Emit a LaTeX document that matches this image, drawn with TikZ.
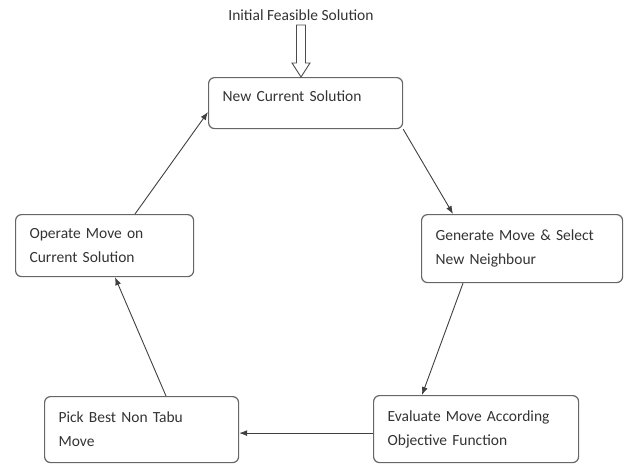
\documentclass[tikz,border=0pt]{standalone}
\usepackage{fontspec}
\setmainfont{Carlito}
\usepackage{tikz}
\usetikzlibrary{arrows.meta}

\tikzset{
  stepbox/.style 2 args={draw=black!60, line width=1.2pt, rounded corners=6pt,
    anchor=north west, align=left, inner xsep=14pt, inner ysep=2pt,
    text width=#1, minimum height=#2, text=black!80},
  link/.style={draw=black!75, line width=0.9pt, -{Latex[length=8pt,width=6pt]}}
}

\begin{document}
\begin{tikzpicture}[x=1pt,y=-1pt,font=\fontsize{15.5}{24}\selectfont]
        \useasboundingbox (0,0) rectangle (626,464);
        \node[inner sep=0pt,text=black!80] (init) at (301,15) {Initial Feasible Solution};
        \node[stepbox={166pt}{51pt},text depth=14pt] (cur) at (208,77) {New Current Solution};
        \node[stepbox={173pt}{68pt}] (gen) at (421,214) {Generate Move \& Select\\New Neighbour};
        \node[stepbox={177pt}{67pt}] (eval) at (373,395) {Evaluate Move According\\Objective Function};
        \node[stepbox={166pt}{66pt}] (pick) at (44,396) {Pick Best Non Tabu\\Move};
        \node[stepbox={150pt}{62pt}] (op) at (15,214) {Operate Move on\\Current Solution};
        % hollow entry arrow
        \coordinate (tip) at (init.south |- cur.north);
        \draw[shift={(tip)},draw=black!70,line width=0.9pt,fill=white]
        (-4.5,-52) -- (-4.5,-14) -- (-9,-14) -- (0,0) --
        (9,-14) -- (4.5,-14) -- (4.5,-52) -- cycle;
        % the cycle
        \draw[link] (cur.south east) -- ([xshift=32pt]gen.north west);
        \draw[link] ([xshift=42pt]gen.south west) -- ([xshift=49pt]eval.north west);
        \draw[link] ([yshift=-4pt]eval.west) -- ([yshift=-4pt]eval.west -| pick.east);
        \draw[link] ([xshift=122pt]pick.north west) -- ([xshift=100pt]op.south west);
        \draw[link] ([xshift=120pt]op.north west) -- ([yshift=-35pt]cur.north west);
\end{tikzpicture}
\end{document}
